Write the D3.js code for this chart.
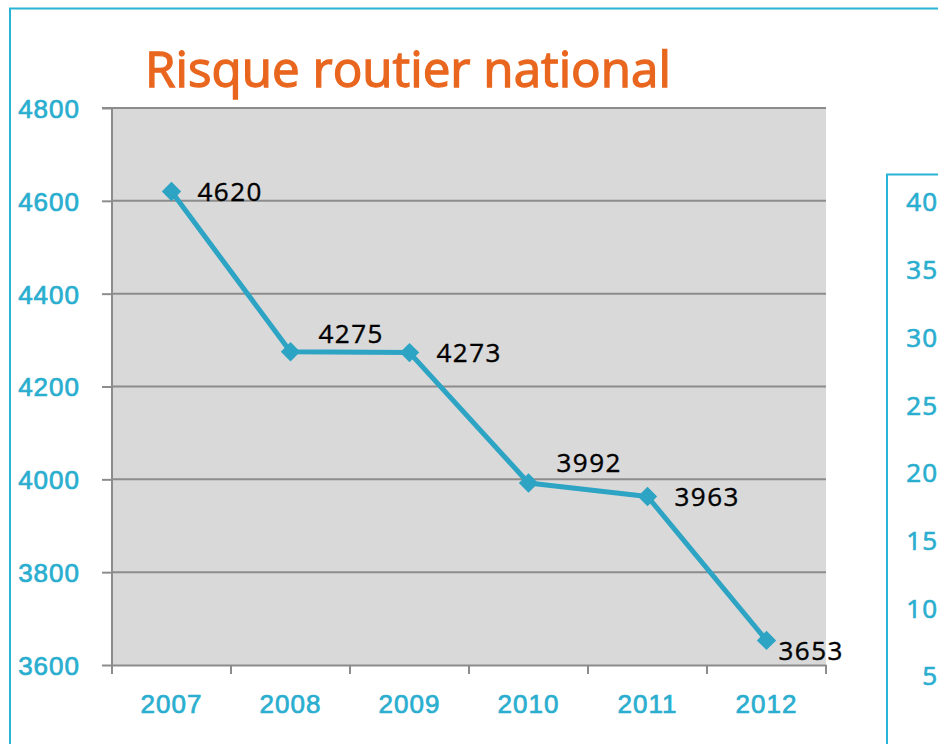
<!DOCTYPE html>
<html>
<head>
<meta charset="utf-8">
<script src="https://cdn.jsdelivr.net/npm/d3@7"></script>
<style>
  html, body { margin: 0; padding: 0; background: #fff; }
  svg { display: block; font-family: "Open Sans", sans-serif; }
</style>
</head>
<body>
<div id="chart"></div>
<script>
const years = ['2007', '2008', '2009', '2010', '2011', '2012'];
const deaths = [4620, 4275, 4273, 3992, 3963, 3653];
const yTicks = [3600, 3800, 4000, 4200, 4400, 4600, 4800];
const sideTicks = [5, 10, 15, 20, 25, 30, 35, 40];
// label offsets from each point (manually placed in the original)
const labelDx = [26, 28, 27, 28, 27, 12];
const labelDy = [0, -18, 0, -20, 0, 10];

const width = 938, height = 744;
const margin = { top: 108, right: 112, bottom: 79, left: 112 };
const blue = '#2aaecf', line = '#2da4c4', grey = '#8c8c8c';

const svg = d3.select('#chart').append('svg')
  .attr('width', width).attr('height', height);

// outer frame of the left panel
svg.append('path')
  .attr('d', `M10,${height} V8.5 H${width}`)
  .attr('fill', 'none').attr('stroke', '#29b3d6').attr('stroke-width', 2);

const x = d3.scaleBand().domain(years)
  .range([margin.left, width - margin.right]);
const y = d3.scaleLinear().domain([3600, 4800])
  .range([height - margin.bottom, margin.top]);

svg.append('rect')
  .attr('x', x.range()[0]).attr('y', y(4800))
  .attr('width', x.range()[1] - x.range()[0]).attr('height', y(3600) - y(4800))
  .attr('fill', '#d9d9d9');

// medium-weight look: regular glyphs with a thin stroke of the same colour
const medium = (sel, color, w) => sel
  .attr('fill', color).attr('stroke', color).attr('stroke-width', w);

const title = svg.append('text')
  .attr('x', 145).attr('y', 87)
  .style('font-size', '50px')
  .text('Risque routier national')
  .call(medium, '#e9661f', 1.3);
// fit title to the width seen in the original
const tw = title.node().getComputedTextLength();
title.style('font-size', (50 * 526 / tw) + 'px');

// y axis with gridlines
const yAxis = svg.append('g')
  .attr('transform', `translate(${margin.left},0)`)
  .call(d3.axisLeft(y).tickValues(yTicks).tickSize(10).tickPadding(22).tickFormat(d3.format('d')));
yAxis.select('.domain').attr('stroke', grey).attr('stroke-width', 2)
  .attr('d', `M-10,${y(4800)}H0V${y(3600) + 9}`);
yAxis.selectAll('.tick line').attr('stroke', grey).attr('stroke-width', 2);
yAxis.selectAll('.tick text')
  .style('font-size', '26px').style('letter-spacing', '1px')
  .attr('dy', '0.36em')
  .call(medium, blue, 0.7);

svg.append('g').selectAll('line')
  .data(yTicks.slice(1))
  .join('line')
  .attr('x1', x.range()[0]).attr('x2', x.range()[1])
  .attr('y1', d => y(d)).attr('y2', d => y(d))
  .attr('stroke', grey).attr('stroke-width', 2);

// x axis, ticks between categories
const xAxis = svg.append('g')
  .attr('transform', `translate(0,${y(3600)})`)
  .call(d3.axisBottom(x).tickSize(0).tickPadding(30));
xAxis.select('.domain').attr('stroke', grey).attr('stroke-width', 2);
xAxis.selectAll('.tick text')
  .style('font-size', '26px').style('letter-spacing', '1px')
  .call(medium, blue, 0.7);
xAxis.selectAll('.sep')
  .data(years.map(d => x(d)).concat([x.range()[1]]))
  .join('line')
  .attr('x1', d => d).attr('x2', d => d)
  .attr('y1', 0).attr('y2', 9)
  .attr('stroke', grey).attr('stroke-width', 2);

const cx = d => x(d) + x.bandwidth() / 2;

svg.append('path')
  .datum(deaths)
  .attr('fill', 'none')
  .attr('stroke', line)
  .attr('stroke-width', 5)
  .attr('stroke-linejoin', 'round')
  .attr('d', d3.line().x((d, i) => cx(years[i])).y(d => y(d)));

svg.append('g').selectAll('path')
  .data(deaths)
  .join('path')
  .attr('transform', (d, i) => `translate(${cx(years[i])},${y(d)})`)
  .attr('d', d3.symbol(d3.symbolDiamond2, 240))
  .attr('fill', line);

svg.append('g').selectAll('text')
  .data(deaths)
  .join('text')
  .attr('x', (d, i) => cx(years[i]) + labelDx[i])
  .attr('y', (d, i) => y(d) + labelDy[i])
  .attr('dy', '0.36em')
  .style('font-size', '26px')
  .style('letter-spacing', '1.5px')
  .text(d => d)
  .call(medium, '#000', 0.4);

// second panel, cut off at the right edge
const sideY = d3.scaleLinear().domain([5, 40]).range([676, 202]);
svg.append('path')
  .attr('d', `M887,${height} V174.5 H${width}`)
  .attr('fill', 'none').attr('stroke', '#29b3d6').attr('stroke-width', 2);
svg.append('g').selectAll('text')
  .data(sideTicks)
  .join('text')
  .attr('x', 938).attr('y', d => sideY(d))
  .attr('dy', '0.36em')
  .attr('text-anchor', 'end')
  .style('font-size', '26px')
  .style('letter-spacing', '1px')
  .text(d => d)
  .call(medium, blue, 0.7);
</script>
</body>
</html>
